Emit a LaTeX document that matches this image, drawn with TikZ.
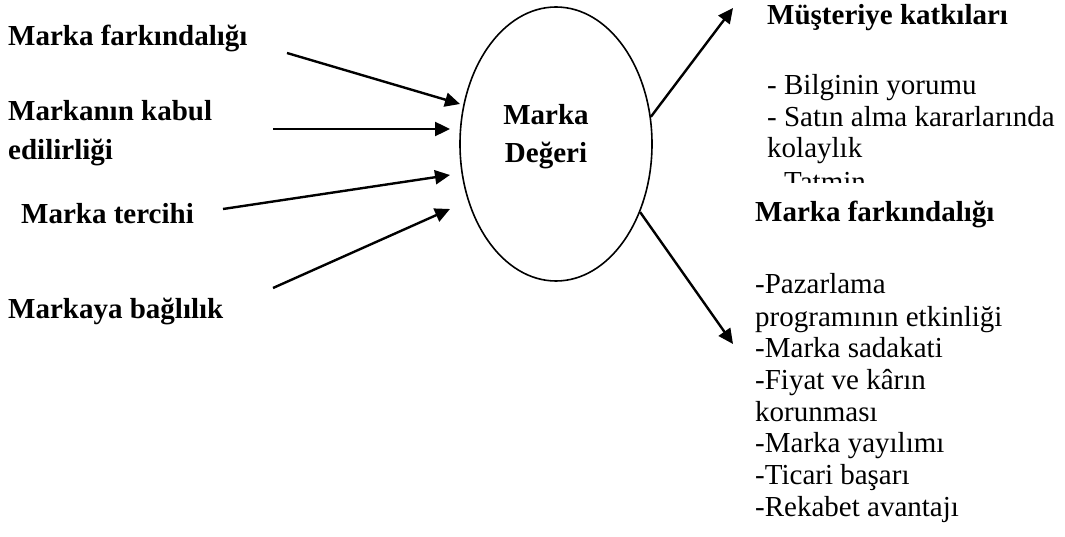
\documentclass[tikz,border=0pt]{standalone}
\usepackage{fontspec}
\setmainfont{Liberation Serif}
\usetikzlibrary{arrows.meta,shapes.geometric}
\newcommand\diagsize{\fontsize{29}{31.7}\selectfont}
\tikzset{
  head/.style={anchor=base west, inner sep=0pt, font=\diagsize\bfseries},
  item/.style={anchor=base west, inner sep=0pt, font=\diagsize},
  mid/.style={anchor=base, inner sep=0pt, font=\diagsize\bfseries},
  flow/.style={line width=2.4pt, -{Triangle[length=15pt,width=14pt]}},
  core/.style={draw, ellipse, line width=1.6pt, minimum width=192pt, minimum height=274pt, inner sep=0pt},
}
\begin{document}
\begin{tikzpicture}[x=1pt, y=-1pt]
\useasboundingbox (0,0) rectangle (1065,537);

% central ellipse
\node[core] (val) at (556,144) {};
\node[mid] (v1) at (546,125) {Marka};
\node[mid] (v2) at (546,163) {Değeri};

% inputs on the left
\node[head] (in1) at (8,46)  {Marka farkındalığı};
\node[head] (in2) at (8,121) {Markanın kabul};
\node[head] (in2b) at (8,160) {edilirliği};
\node[head] (in3) at (21,224) {Marka tercihi};
\node[head] (in4) at (8,318) {Markaya bağlılık};

\coordinate (s1) at (287,53);   \coordinate (e1) at (460,104);
\coordinate (s2) at (273,129);  \coordinate (e2) at (450,129);
\coordinate (s3) at (223,209);  \coordinate (e3) at (450,175);
\coordinate (s4) at (273,288);  \coordinate (e4) at (450,209);
\draw[flow] (s1) -- (e1);
\draw[flow] (s2) -- (e2);
\draw[flow] (s3) -- (e3);
\draw[flow] (s4) -- (e4);

% outputs on the right
\coordinate (e5) at (733,8);
\coordinate (e6) at (733,344);
\draw[flow] (val.16) -- (e5);
\draw[flow] (val.-39) -- (e6);

\node[head] (out1) at (767,25) {Müşteriye katkıları};
\begin{scope}
  \clip (740,60) rectangle (1065,183);
  \node[item] (a1) at (767,95)  {- Bilginin yorumu};
  \node[item] (a2) at (767,127) {- Satın alma kararlarında};
  \node[item] (a3) at (767,158) {kolaylık};
  \node[item] (a4) at (767,192) {- Tatmin};
\end{scope}

\node[head] (out2) at (755,222) {Marka farkındalığı};
\begin{scope}
  \clip (740,260) rectangle (1065,528);
  \node[item] (b1) at (755,294) {-Pazarlama};
  \node[item] (b2) at (755,326) {programının etkinliği};
  \node[item] (b3) at (755,357) {-Marka sadakati};
  \node[item] (b4) at (755,389) {-Fiyat ve kârın};
  \node[item] (b5) at (755,421) {korunması};
  \node[item] (b6) at (755,452) {-Marka yayılımı};
  \node[item] (b7) at (755,484) {-Ticari başarı};
  \node[item] (b8) at (755,516) {-Rekabet avantajı};
\end{scope}
\end{tikzpicture}
\end{document}
